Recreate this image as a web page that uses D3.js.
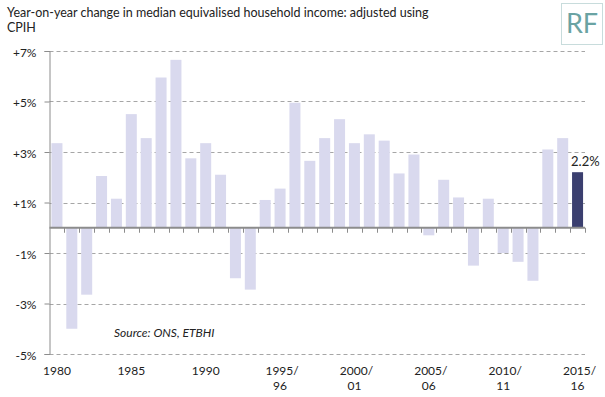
<!DOCTYPE html>
<html>
<head>
<meta charset="utf-8">
<script src="https://cdn.jsdelivr.net/npm/d3@7"></script>
<style>
  body { margin: 0; background: #fff; }
  svg text { font-family: Lato, "Open Sans", sans-serif; fill: #222; }
</style>
</head>
<body>
<svg id="chart" width="605" height="397"></svg>
<script>
// categories: calendar years, then financial years
var categories = ["1980", "1981", "1982", "1983", "1984", "1985", "1986", "1987", "1988", "1989",
    "1990", "1991", "1992", "1993", "1994/95", "1995/96", "1996/97", "1997/98", "1998/99", "1999/00",
    "2000/01", "2001/02", "2002/03", "2003/04", "2004/05", "2005/06", "2006/07", "2007/08", "2008/09",
    "2009/10", "2010/11", "2011/12", "2012/13", "2013/14", "2014/15", "2015/16"];
// year-on-year change, %
var values = [3.35, -4.0, -2.65, 2.05, 1.15, 4.5, 3.55, 5.95, 6.65, 2.75,
    3.35, 2.1, -2.0, -2.45, 1.1, 1.55, 4.95, 2.65, 3.55, 4.3,
    3.35, 3.7, 3.45, 2.15, 2.9, -0.3, 1.9, 1.2, -1.5, 1.15,
    -1.0, -1.35, -2.1, 3.1, 3.55, 2.2];
var yTicks = [7, 5, 3, 1, -1, -3, -5];
var xLabelCats = ["1980", "1985", "1990", "1995/96", "2000/01", "2005/06", "2010/11", "2015/16"];

var svg = d3.select("#chart");
var plotLeft = 49.5, plotRight = 585, plotTop = 51, plotBottom = 354;

var x = d3.scaleBand().domain(categories).range([plotLeft, plotRight]).paddingInner(0.26).paddingOuter(0.13);
var y = d3.scaleLinear().domain([-5, 7]).range([plotBottom, plotTop]);

//title
var title = svg.append("text").attr("x", 7).attr("y", 17).style("font-size", "12.5px");
title.append("tspan").attr("x", 7).attr("dy", 0).text("Year-on-year change in median equivalised household income: adjusted using");
title.append("tspan").attr("x", 7).attr("dy", 15).text("CPIH");

//RF logo
svg.append("rect").attr("x", 561.5).attr("y", 3.5).attr("width", 41).attr("height", 41)
    .attr("fill", "#fff").attr("stroke", "#c8dcdc").attr("stroke-width", 1);
svg.append("text").attr("x", 582).attr("y", 33).attr("text-anchor", "middle")
    .style("font-size", "27px").style("fill", "#6aa3a3").text("RF");

//gridlines
svg.append("g").selectAll("line").data(yTicks).join("line")
    .attr("x1", plotLeft).attr("x2", plotRight)
    .attr("y1", function (d) { return Math.round(y(d)) + 0.5; })
    .attr("y2", function (d) { return Math.round(y(d)) + 0.5; })
    .attr("stroke", "#a6a6a6").attr("stroke-dasharray", "4,3");

//y axis
var yAxis = d3.axisLeft(y).tickValues(yTicks).tickSize(5).tickPadding(8)
    .tickFormat(function (d) { return (d > 0 ? "+" : "") + d + "%"; });
var gy = svg.append("g").attr("transform", "translate(" + plotLeft + ",0)").call(yAxis);
gy.select(".domain").attr("stroke", "#8c8c8c");
gy.selectAll(".tick line").attr("stroke", "#8c8c8c");
gy.selectAll(".tick text").style("font-size", "12px").style("fill", "#222").attr("dy", "0.45em");

//bars
svg.append("g").selectAll("rect").data(values).join("rect")
    .attr("x", function (d, i) { return x(categories[i]); })
    .attr("width", x.bandwidth())
    .attr("y", function (d) { return y(Math.max(0, d)); })
    .attr("height", function (d) { return Math.abs(y(d) - y(0)); })
    .attr("fill", function (d, i) { return i === values.length - 1 ? "#3b3f6f" : "#d9d9ee"; });

//zero axis with ticks at category boundaries
var gx = svg.append("g");
gx.append("line").attr("x1", plotLeft).attr("x2", plotRight).attr("y1", y(0)).attr("y2", y(0))
    .attr("stroke", "#8c8c8c").attr("stroke-width", 2);
var step = x.step();
gx.selectAll("line.tk").data(d3.range(1, categories.length + 1)).join("line").attr("class", "tk")
    .attr("x1", function (k) { return Math.round(plotLeft + k * step) + 0.5; })
    .attr("x2", function (k) { return Math.round(plotLeft + k * step) + 0.5; })
    .attr("y1", y(0)).attr("y2", y(0) + 5)
    .attr("stroke", "#8c8c8c");

//x labels
var lab = svg.append("g").selectAll("text").data(xLabelCats).join("text")
    .attr("text-anchor", "middle").style("font-size", "12px")
    .attr("x", function (d) { return x(d) + x.bandwidth() / 2; })
    .attr("y", 375);
lab.each(function (d) {
    var parts = d.split("/");
    var t = d3.select(this);
    if (parts.length === 1) {
        t.text(d);
    } else {
        t.append("tspan").attr("x", x(d) + x.bandwidth() / 2 + 2).attr("dy", 0).text(parts[0] + "/");
        t.append("tspan").attr("x", x(d) + x.bandwidth() / 2).attr("dy", 15).text(parts[1]);
    }
});

//value label on last bar
var last = categories[categories.length - 1];
svg.append("text").attr("x", x(last) - 1).attr("y", y(values[values.length - 1]) - 6)
    .style("font-size", "13px").text("2.2%");

//source
svg.append("text").attr("x", 114).attr("y", 337).style("font-size", "12px").style("font-style", "italic")
    .text("Source: ONS, ETBHI");
</script>
</body>
</html>
